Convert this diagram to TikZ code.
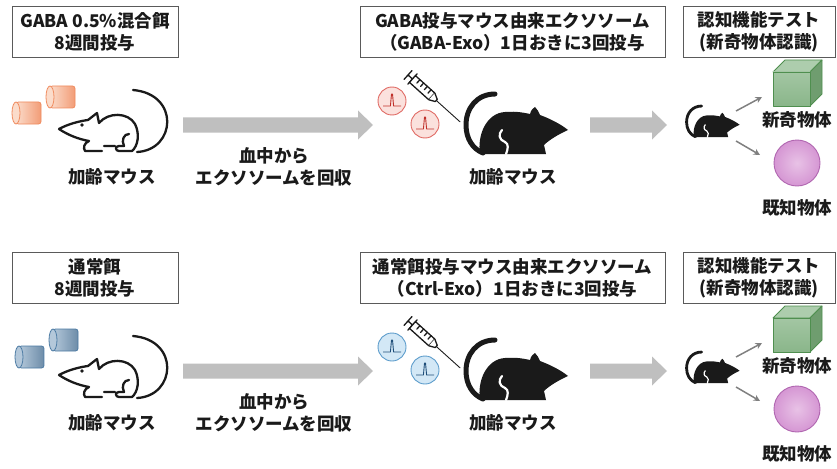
\documentclass[tikz,border=0pt]{standalone}
\usepackage{fontspec}
\setmainfont{Noto Sans CJK JP}
\usetikzlibrary{arrows.meta}

\definecolor{ink}{HTML}{1A1A1A}
\definecolor{frame}{HTML}{5A5A5A}
\definecolor{flow}{HTML}{BFBFBF}
\definecolor{pointer}{HTML}{808080}
\definecolor{orgL}{HTML}{FBDCCB}
\definecolor{orgR}{HTML}{F29C76}
\definecolor{orgE}{HTML}{F08A5D}
\definecolor{bluL}{HTML}{B4C8DA}
\definecolor{bluR}{HTML}{6D8CA8}
\definecolor{bluE}{HTML}{4B7AA3}
\definecolor{exoRF}{HTML}{FBE1DD}
\definecolor{exoRE}{HTML}{E06A64}
\definecolor{exoRL}{HTML}{C0302A}
\definecolor{exoBF}{HTML}{D3E8F6}
\definecolor{exoBE}{HTML}{5C9CCB}
\definecolor{exoBL}{HTML}{1F4E79}
\definecolor{cubeF}{HTML}{8AB68A}
\definecolor{cubeFL}{HTML}{A3C6A3}
\definecolor{cubeT}{HTML}{ADCDAD}
\definecolor{cubeS}{HTML}{6F9D6F}
\definecolor{cubeE}{HTML}{4F8F4F}
\definecolor{ballF}{HTML}{D596D3}
\definecolor{ballC}{HTML}{E8C2E6}
\definecolor{ballE}{HTML}{B066B0}

\tikzset{
  % horizontal feed pellet: #1 light, #2 dark, #3 edge
  pics/pellet/.style args={#1/#2/#3}{code={
    \draw[draw=#3, line width=0.8, left color=#1, right color=#2, rounded corners=2.5]
      (4,0) -- (29,0) -- (29,22) -- (4,22) -- cycle;
    \draw[draw=#3, line width=0.8, fill=#1] (4,11) ellipse [x radius=4, y radius=11];
  }},
  % exosome vesicle with a single peak: #1 fill, #2 edge, #3 trace
  pics/vesicle/.style args={#1/#2/#3}{code={
    \draw[draw=#2, line width=0.9, fill=#1] (0,0) circle [radius=14];
    \draw[draw=#3, line width=0.9, line join=round]
      (-9,5) -- (-1.6,5) -- (-0.5,-7) -- (0.5,-7) -- (1.6,5) -- (9,5);
  }},
  % syringe lying along +x
  pics/syringe/.style={code={
    \begin{scope}[draw=ink, line width=1.3, line cap=round, line join=round]
      \draw (0,-6) -- (0,6);
      \draw (0,0) -- (6,0);
      \draw (6,-7) -- (6,7);
      \draw[fill=white] (6,-4.5) rectangle (32,4.5);
      \foreach \t in {12,17,22,27} \draw (\t,-4.5) -- (\t,0);
      \draw[fill=white] (32,-4.5) -- (38,-1.5) -- (38,1.5) -- (32,4.5);
      \draw[line width=0.9] (38,0) -- (70,0);
    \end{scope}
  }},
  % white mouse drawn as an outline, facing left
  pics/linemouse/.style={code={
    \begin{scope}[draw=ink, line width=2.3, line cap=round, line join=round]
      \draw[fill=white] (1,41) .. controls (10,36) and (22,33) .. (30,32) -- (39,25) -- (41,35)
        .. controls (50,24) and (70,24) .. (77,36)
        .. controls (82,46) and (80,58) .. (74,63)
        -- (61,63) .. controls (57,63) and (57,58) .. (61,58) -- (66,58)
        .. controls (63,52) and (66,46) .. (71,46)
        (1,41) .. controls (10,47) and (20,51) .. (31,53)
        .. controls (26,55) and (25,60) .. (27,63) -- (44,63)
        (46,58) -- (57,58);
      \draw (79,64) .. controls (118,62) and (122,6) .. (75,2);
      \fill[ink] (24,37) circle [radius=1.8];
    \end{scope}
  }},
  % solid black mouse facing right: #1 tail width, #2 leg line width
  pics/darkmouse/.style args={#1/#2}{code={
    \draw[draw=ink, line width=#1, line cap=round]
      (32,2) .. controls (14,2) and (3,16) .. (3,33) .. controls (3,47) and (10,57) .. (20,61);
    \fill[ink] (17,62) .. controls (14,42) and (24,21) .. (42,20)
      .. controls (54,19) and (62,21) .. (67,22)
      .. controls (68,18) and (70,16) .. (72,15)
      .. controls (74,17) and (76,20) .. (77,23)
      .. controls (88,27) and (99,33) .. (105,38)
      .. controls (96,42) and (86,48) .. (81,53)
      -- (83,62) -- cycle;
    \draw[draw=white, line width=#2, line cap=round]
      (39,38) .. controls (35,42) and (36,48) .. (42,50) .. controls (46,52) and (45,57) .. (43,62);
  }},
  % novel object: green cube
  pics/block/.style={code={
    \begin{scope}[draw=cubeE, line width=0.8, line join=round]
      \draw[fill=cubeT] (0,12) -- (12,0) -- (49,0) -- (37,12) -- cycle;
      \draw[fill=cubeS] (37,12) -- (49,0) -- (49,34) -- (37,46) -- cycle;
      \draw[top color=cubeFL, bottom color=cubeF] (0,12) rectangle (37,46);
    \end{scope}
  }},
  % wide grey process arrow of length #1
  pics/flowarrow/.style={code={
    \fill[flow] (0,-7.5) -- ({#1-15},-7.5) -- ({#1-15},-14.5) -- (#1,0)
      -- ({#1-15},14.5) -- ({#1-15},7.5) -- (0,7.5) -- cycle;
  }},
}

\begin{document}
\begin{tikzpicture}[x=1pt, y=-1pt,
  every node/.style={text=ink},
  lbl/.style={inner sep=0, align=center, font=\fontsize{17.5}{22}\selectfont\bfseries},
  tbox/.style={lbl, draw=frame, line width=0.9, fill=white, minimum height=51},
  pointerarrow/.style={draw=pointer, line width=1.5, -{Stealth[length=6.5, width=6.5]}},
]
\useasboundingbox (0,0) rectangle (837,468);

% ---------- GABA-fed group ----------
\node[tbox, minimum width=166] (feedA) at (95,31.5) {GABA 0.5\%混合餌\\8週間投与};
\node[tbox, minimum width=305] (exoA) at (512.5,31.5) {GABA投与マウス由来エクソソーム\\（GABA-Exo）1日おきに3回投与};
\node[tbox, minimum width=152] (testA) at (759,31.5) {認知機能テスト\\(新奇物体認識)};

\pic at (12,102) {pellet=orgL/orgR/orgE};
\pic at (46,86) {pellet=orgL/orgR/orgE};
\pic at (58,88) {linemouse};
\node[lbl] (donorA) at (112,177) {加齢マウス};

\pic at (183,125) {flowarrow=190};
\node[lbl] (collectA) at (274,167) {血中から\\エクソソームを回収};

\pic at (392,101) {vesicle=exoRF/exoRE/exoRL};
\pic at (425,124) {vesicle=exoRF/exoRE/exoRL};
\pic[rotate=-42] at (408,75) {syringe};
\pic at (463,92) {darkmouse=5/2.2};
\node[lbl] (recvA) at (513,177) {加齢マウス};

\pic at (590,125) {flowarrow=77};
\pic[scale=0.52] at (685,105) {darkmouse=2.8/1.2};
\coordinate (tailA) at (736,111);
\coordinate (tipA) at (762,97);
\coordinate (tailA2) at (736,141);
\coordinate (tipA2) at (760,155);
\draw[pointerarrow] (tailA) -- (tipA);
\draw[pointerarrow] (tailA2) -- (tipA2);

\pic at (773,60) {block};
\node[lbl] (novelA) at (797,120) {新奇物体};
\node[circle, minimum size=46, inner sep=0, draw=ballE, line width=0.9,
      inner color=ballC, outer color=ballF] (ballA) at (797,163) {};
\node[lbl] (knownA) at (797,208) {既知物体};

% ---------- control group ----------
\begin{scope}[shift={(0,246)}]
\node[tbox, minimum width=166] (feedB) at (95,31.5) {通常餌\\8週間投与};
\node[tbox, minimum width=305] (exoB) at (512.5,31.5) {通常餌投与マウス由来エクソソーム\\（Ctrl-Exo）1日おきに3回投与};
\node[tbox, minimum width=152] (testB) at (759,31.5) {認知機能テスト\\(新奇物体認識)};

\pic at (15,100) {pellet=bluL/bluR/bluE};
\pic at (49,83) {pellet=bluL/bluR/bluE};
\pic at (58,88) {linemouse};
\node[lbl] (donorB) at (112,177) {加齢マウス};

\pic at (183,125) {flowarrow=190};
\node[lbl] (collectB) at (274,167) {血中から\\エクソソームを回収};

\pic at (392,101) {vesicle=exoBF/exoBE/exoBL};
\pic at (425,124) {vesicle=exoBF/exoBE/exoBL};
\pic[rotate=-42] at (408,75) {syringe};
\pic at (463,92) {darkmouse=5/2.2};
\node[lbl] (recvB) at (513,177) {加齢マウス};

\pic at (590,125) {flowarrow=77};
\pic[scale=0.52] at (685,105) {darkmouse=2.8/1.2};
\coordinate (tailB) at (736,111);
\coordinate (tipB) at (762,97);
\coordinate (tailB2) at (736,141);
\coordinate (tipB2) at (760,155);
\draw[pointerarrow] (tailB) -- (tipB);
\draw[pointerarrow] (tailB2) -- (tipB2);

\pic at (773,60) {block};
\node[lbl] (novelB) at (797,120) {新奇物体};
\node[circle, minimum size=46, inner sep=0, draw=ballE, line width=0.9,
      inner color=ballC, outer color=ballF] (ballB) at (797,163) {};
\node[lbl] (knownB) at (797,208) {既知物体};
\end{scope}
\end{tikzpicture}
\end{document}
